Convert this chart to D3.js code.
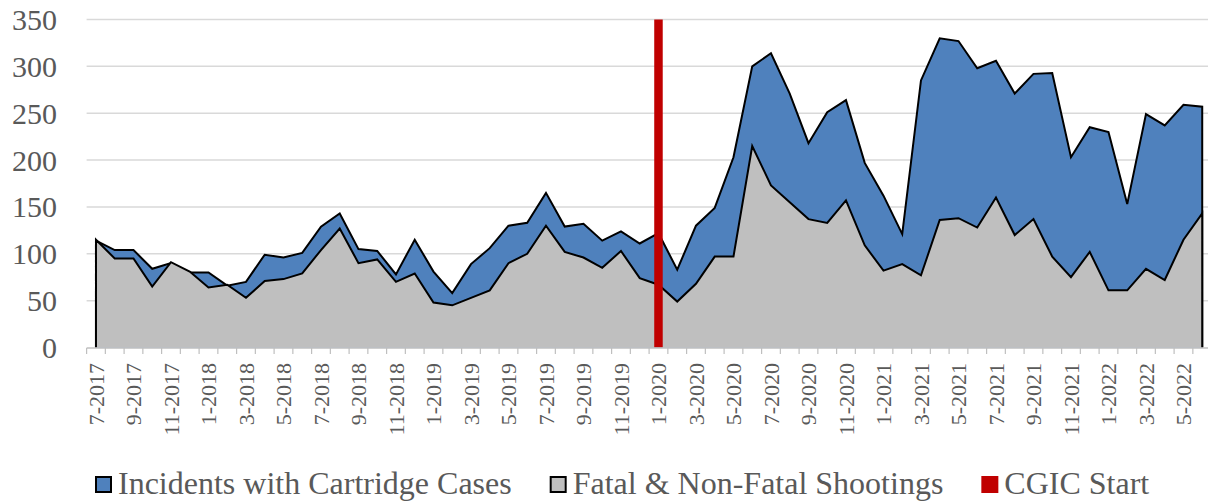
<!doctype html>
<html lang="en">
<head>
  <meta charset="utf-8">
  <title>CGIC chart</title>
  <style>
    body { margin: 0; background: #fff; }
    text { font-family: "Liberation Serif", "Times New Roman", serif; fill: #595959; }
  </style>
</head>
<body>
  <div id="vis"></div>
  <script src="https://cdn.jsdelivr.net/npm/d3@7"></script>
  <script>
    const months = [
      '7-2017', '8-2017', '9-2017', '10-2017', '11-2017', '12-2017',
      '1-2018', '2-2018', '3-2018', '4-2018', '5-2018', '6-2018',
      '7-2018', '8-2018', '9-2018', '10-2018', '11-2018', '12-2018',
      '1-2019', '2-2019', '3-2019', '4-2019', '5-2019', '6-2019',
      '7-2019', '8-2019', '9-2019', '10-2019', '11-2019', '12-2019',
      '1-2020', '2-2020', '3-2020', '4-2020', '5-2020', '6-2020',
      '7-2020', '8-2020', '9-2020', '10-2020', '11-2020', '12-2020',
      '1-2021', '2-2021', '3-2021', '4-2021', '5-2021', '6-2021',
      '7-2021', '8-2021', '9-2021', '10-2021', '11-2021', '12-2021',
      '1-2022', '2-2022', '3-2022', '4-2022', '5-2022', '6-2022'
    ];

    // Incidents with Cartridge Cases
    const incidents = [
      114, 104, 104, 84, 90, 80, 80, 66, 70, 99, 96, 101,
      129, 143, 105, 103, 78, 115, 81, 58, 89, 106, 130, 133,
      165, 129, 132, 114, 124, 111, 122, 83, 130, 149, 203, 300,
      314, 271, 218, 251, 264, 197, 162, 121, 285, 330, 327, 298,
      306, 271, 292, 293, 203, 235, 230, 153, 249, 237, 259, 257
    ];

    // Fatal & Non-Fatal Shootings
    const shootings = [
      115, 95, 95, 65, 91, 81, 64, 67, 53, 71, 73, 79,
      104, 127, 90, 94, 70, 79, 48, 45, 53, 61, 90, 100,
      130, 102, 96, 85, 103, 74, 67, 49, 68, 97, 97, 215,
      173, 155, 137, 133, 157, 109, 82, 89, 77, 136, 138, 128,
      160, 120, 137, 97, 75, 102, 61, 61, 84, 72, 115, 143
    ];

    const cgicStart = { month: '1-2020', value: 350 };
    const yTicks = [0, 50, 100, 150, 200, 250, 300, 350];

    const legendItems = [
      { label: 'Incidents with Cartridge Cases', color: '#4f81bd', border: true },
      { label: 'Fatal & Non-Fatal Shootings', color: '#bfbfbf', border: true },
      { label: 'CGIC Start', color: '#c00000', border: false }
    ];

    const w = 1208, h = 503;
    const plotLeft = 86.6, bandW = 18.75;
    const plotTop = 19.5, plotBottom = 347.5;

    const svg = d3.select('#vis')
      .append('svg')
        .attr('width', w)
        .attr('height', h);

    const x = d3.scaleBand()
      .domain(months)
      .range([plotLeft, plotLeft + bandW * months.length]);

    const y = d3.scaleLinear()
      .domain([0, 350])
      .range([plotBottom, plotTop]);

    const cx = m => x(m) + x.bandwidth() / 2;

    // gridlines
    svg.append('g')
      .selectAll('line')
      .data(yTicks.filter(d => d > 0))
      .join('line')
        .attr('x1', plotLeft)
        .attr('x2', w)
        .attr('y1', d => y(d))
        .attr('y2', d => y(d))
        .attr('stroke', '#d9d9d9')
        .attr('stroke-width', 1.5);

    // y labels
    svg.append('g')
      .selectAll('text')
      .data(yTicks)
      .join('text')
        .attr('x', 57)
        .attr('y', d => y(d))
        .attr('dy', '0.35em')
        .attr('text-anchor', 'end')
        .style('font-size', '30px')
        .text(d => d);

    function drawSeries(values, fill) {
      const pts = values.map((v, i) => [cx(months[i]), y(v)]);
      const area = d3.area()
        .x(d => d[0])
        .y0(y(0))
        .y1(d => d[1]);
      svg.append('path')
        .datum(pts)
        .attr('d', area)
        .attr('fill', fill);
      const outline = [[pts[0][0], y(0)], ...pts, [pts[pts.length - 1][0], y(0)]];
      svg.append('path')
        .datum(outline)
        .attr('d', d3.line())
        .attr('fill', 'none')
        .attr('stroke', '#000')
        .attr('stroke-width', 2)
        .attr('stroke-linejoin', 'miter');
    }

    drawSeries(incidents, '#4f81bd');
    drawSeries(shootings, '#bfbfbf');

    // CGIC start marker
    svg.append('rect')
      .attr('x', cx(cgicStart.month) - 4.25)
      .attr('y', y(cgicStart.value))
      .attr('width', 8.5)
      .attr('height', y(0) - y(cgicStart.value))
      .attr('fill', '#c00000');

    // x axis line and ticks
    svg.append('line')
      .attr('x1', plotLeft)
      .attr('x2', w)
      .attr('y1', plotBottom + 0.5)
      .attr('y2', plotBottom + 0.5)
      .attr('stroke', '#bfbfbf')
      .attr('stroke-width', 1.5);

    svg.append('g')
      .selectAll('line')
      .data(d3.range(months.length + 1))
      .join('line')
        .attr('x1', i => plotLeft + i * bandW)
        .attr('x2', i => plotLeft + i * bandW)
        .attr('y1', plotBottom + 0.5)
        .attr('y2', plotBottom + 6.5)
        .attr('stroke', '#bfbfbf')
        .attr('stroke-width', 1.2);

    // x labels every other month
    svg.append('g')
      .selectAll('text')
      .data(months.filter((m, i) => i % 2 === 0))
      .join('text')
        .attr('transform', m => `translate(${cx(m)}, 363) rotate(-90)`)
        .attr('dy', '0.35em')
        .attr('text-anchor', 'end')
        .style('font-size', '22px')
        .text(m => m);

    // legend
    const lg = svg.append('g');
    let lx = 95;
    legendItems.forEach(item => {
      lg.append('rect')
        .attr('x', item.border ? lx + 1 : lx)
        .attr('y', item.border ? 477 : 476)
        .attr('width', item.border ? 15 : 17)
        .attr('height', item.border ? 15 : 17)
        .attr('fill', item.color)
        .attr('stroke', item.border ? '#000' : 'none')
        .attr('stroke-width', 2);
      const t = lg.append('text')
        .attr('x', lx + 23)
        .attr('y', 494)
        .style('font-size', '32px')
        .text(item.label);
      lx += 23 + t.node().getComputedTextLength() + 38;
    });
  </script>
</body>
</html>
